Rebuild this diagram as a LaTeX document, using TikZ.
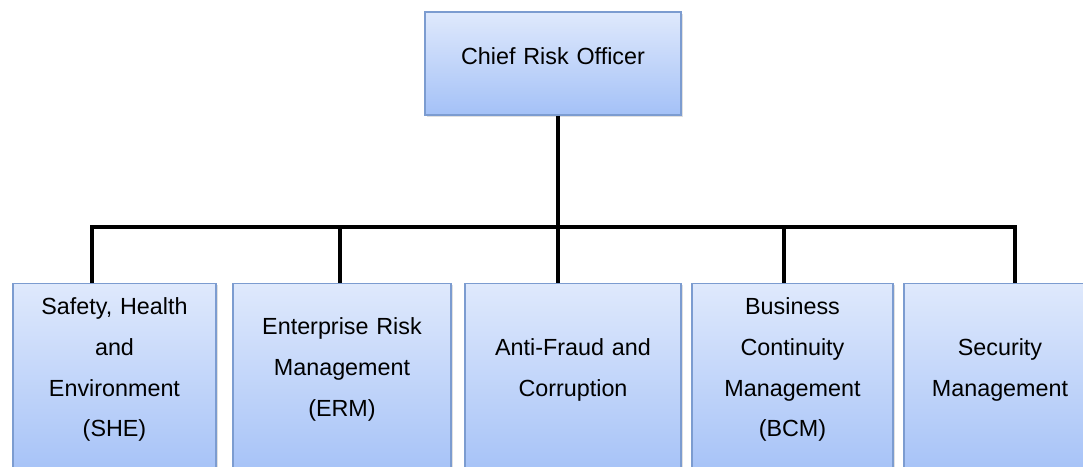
\documentclass[tikz,border=0pt]{standalone}
\usepackage{fontspec}
\setmainfont{Liberation Sans}
\usetikzlibrary{shadows}

\definecolor{boxtop}{RGB}{223,233,252}
\definecolor{boxbottom}{RGB}{164,193,247}
\definecolor{boxline}{RGB}{124,156,208}

% blank space under the lines of a box, so the text sits higher
\newcommand\liftgap[1]{\endgraf\vspace{#1}}

\begin{document}
\begin{tikzpicture}[
    panel/.style={rectangle, draw=boxline, line width=0.9pt,
                  top color=boxtop, bottom color=boxbottom,
                  drop shadow={shadow xshift=0.04cm, shadow yshift=-0.04cm,
                               opacity=0.2, fill=black!60},
                  inner xsep=0.1cm, align=center,
                  font=\fontsize{16.6pt}{29pt}\selectfont},
    textlift/.style={execute at end node={\liftgap{#1}}},
    unit/.style={panel, anchor=north, minimum height=4.9cm,
                 text width=4.4cm, textlift=0.6cm},
    link/.style={line width=2.8pt, black}
]
    \clip (0,0) rectangle (27.075,11.65);
    \useasboundingbox (0,0) rectangle (27.075,11.65);

    \node[panel, minimum width=6.4cm, minimum height=2.575cm, text width=6cm,
          textlift=0.38cm] (cro) at (13.825,10.0625) {Chief Risk Officer};

    \node[unit, minimum width=5.075cm] (she) at (2.8625,4.575)
        {Safety, Health\\and\\Environment\\(SHE)};
    \node[unit, minimum width=5.45cm] (erm) at (8.55,4.575)
        {Enterprise Risk\\Management\\(ERM)};
    \node[unit, minimum width=5.4cm] (afc) at (14.325,4.575)
        {Anti-Fraud and\\Corruption};
    \node[unit, minimum width=5.025cm] (bcm) at (19.8125,4.575)
        {Business\\Continuity\\Management\\(BCM)};
    \node[unit, minimum width=4.8cm] (sec) at (25.0,4.575)
        {Security\\Management};

    \coordinate (j1) at (2.3,5.975);
    \coordinate (j2) at (8.5,5.975);
    \coordinate (j3) at (13.95,5.975);
    \coordinate (j4) at (19.6,5.975);
    \coordinate (j5) at (25.375,5.975);

    \draw[link] (cro.south -| j3) -- (j3);
    \draw[link] (j1 |- she.north) -- (j1) -- (j5) -- (j5 |- sec.north);
    \draw[link] (j2) -- (j2 |- erm.north);
    \draw[link] (j3) -- (j3 |- afc.north);
    \draw[link] (j4) -- (j4 |- bcm.north);
\end{tikzpicture}
\end{document}
